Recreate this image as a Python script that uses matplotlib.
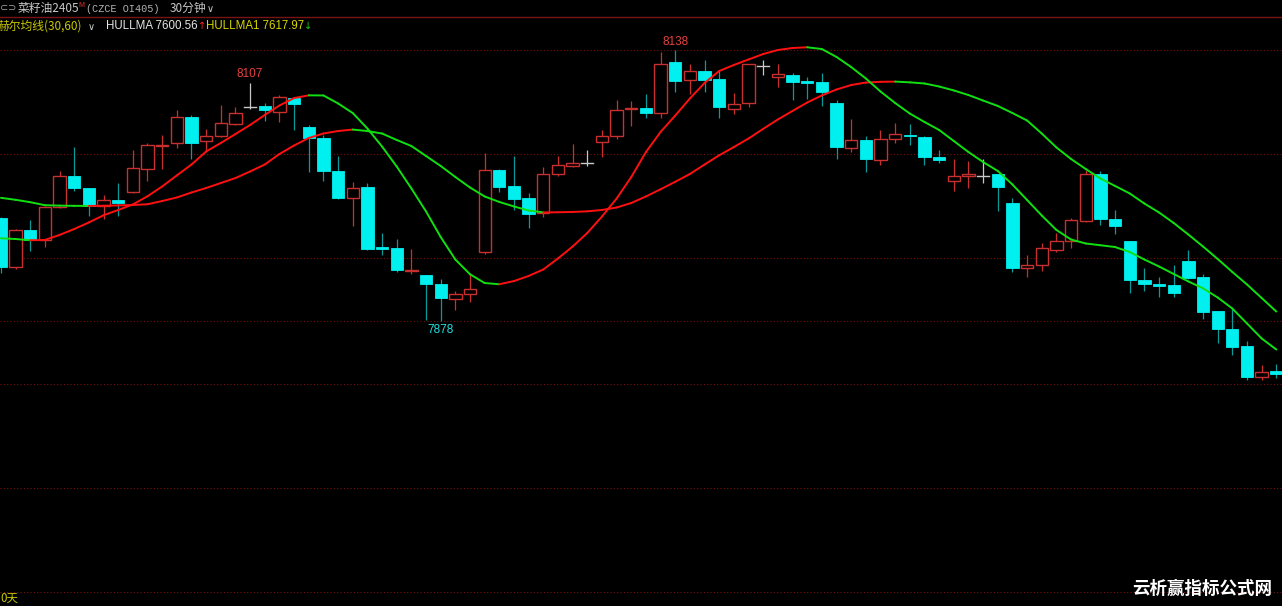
import matplotlib
matplotlib.use("Agg")
import matplotlib.pyplot as plt
from matplotlib.patches import Rectangle
from matplotlib.collections import LineCollection
from matplotlib.lines import Line2D

# ---------------- data (30-minute bars, 菜籽油2405) ----------------
opens = [7977, 7930, 7965, 7956, 7988, 8017, 8006, 7989, 7994, 8002,
         8024, 8046, 8049, 8074, 8051, 8056, 8067, 8084, 8085, 8079,
         8092, 8064, 8054, 8022, 7996, 8007, 7949, 7948, 7926, 7922,
         7914, 7899, 7904, 7944, 8023, 8008, 7996, 7982, 8019, 8027,
         8030, 8050, 8056, 8082, 8083, 8078, 8127, 8110, 8118, 8111,
         8082, 8088, 8123, 8113, 8114, 8109, 8108, 8088, 8044, 8052,
         8033, 8053, 8057, 8055, 8036, 8013, 8017, 8017, 8019, 7991,
         7929, 7932, 7946, 7955, 7974, 8019, 7976, 7955, 7917, 7914,
         7913, 7936, 7920, 7888, 7870, 7854, 7824, 7830]
highs = [7978, 7966, 7975, 7989, 8022, 8045, 8006, 7999, 8011, 8042,
         8049, 8057, 8081, 8076, 8063, 8086, 8084, 8107, 8088, 8095,
         8093, 8066, 8057, 8037, 8012, 8011, 7963, 7957, 7947, 7922,
         7918, 7907, 7923, 8039, 8024, 8037, 8001, 8026, 8037, 8048,
         8042, 8062, 8090, 8089, 8096, 8137, 8138, 8125, 8129, 8118,
         8097, 8125, 8129, 8125, 8116, 8113, 8116, 8090, 8072, 8056,
         8062, 8068, 8067, 8056, 8042, 8034, 8032, 8034, 8019, 7996,
         7941, 7953, 7963, 7977, 8023, 8022, 7985, 7955, 7929, 7920,
         7932, 7946, 7923, 7888, 7890, 7859, 7836, 7837]
lows = [7924, 7928, 7945, 7949, 7987, 8003, 7979, 7976, 7979, 8001,
        8013, 8024, 8044, 8034, 8041, 8055, 8066, 8082, 8070, 8069,
        8062, 8021, 8013, 7995, 7969, 7946, 7941, 7925, 7923, 7879,
        7878, 7889, 7896, 7942, 8002, 7985, 7967, 7978, 8017, 8026,
        8027, 8036, 8053, 8065, 8073, 8073, 8098, 8096, 8098, 8073,
        8077, 8084, 8114, 8103, 8090, 8091, 8085, 8034, 8040, 8021,
        8028, 8049, 8047, 8028, 8030, 8003, 8006, 8011, 7984, 7925,
        7920, 7926, 7944, 7948, 7973, 7970, 7962, 7905, 7907, 7901,
        7901, 7918, 7880, 7857, 7845, 7821, 7821, 7823]
closes = [7930, 7965, 7956, 7988, 8017, 8006, 7989, 7994, 7991, 8025,
          8047, 8047, 8074, 8049, 8056, 8068, 8078, 8084, 8081, 8093,
          8087, 8054, 8022, 7996, 8006, 7947, 7947, 7927, 7927, 7914,
          7900, 7904, 7909, 8023, 8007, 7995, 7981, 8019, 8028, 8030,
          8030, 8056, 8081, 8083, 8078, 8125, 8109, 8118, 8110, 8084,
          8087, 8125, 8123, 8115, 8108, 8107, 8098, 8045, 8052, 8034,
          8053, 8058, 8056, 8036, 8033, 8017, 8019, 8017, 8007, 7929,
          7932, 7948, 7955, 7975, 8019, 7976, 7969, 7917, 7914, 7912,
          7905, 7919, 7887, 7870, 7853, 7824, 7829, 7827]

# HULLMA (30) and HULLMA1 (60) per bar
hullma = [7957.5, 7956.8, 7955.6, 7955.9, 7960.7, 7966.4, 7972.7, 7979.6, 7984.7, 7990.0,
          7997.9, 8007.3, 8017.9, 8028.4, 8040.9, 8049.1, 8057.7, 8066.4, 8076.0, 8085.1,
          8092.3, 8094.9, 8094.8, 8087.1, 8077.9, 8063.0, 8045.7, 8026.5, 8005.4, 7983.3,
          7958.7, 7937.1, 7922.9, 7914.5, 7913.3, 7916.4, 7921.3, 7927.5, 7938.1, 7949.6,
          7962.6, 7978.4, 7995.7, 8016.4, 8040.4, 8059.7, 8075.5, 8091.9, 8106.8, 8118.3,
          8124.1, 8129.4, 8134.6, 8138.5, 8140.4, 8141.1, 8139.4, 8131.8, 8122.1, 8111.1,
          8098.6, 8087.5, 8077.4, 8069.3, 8061.6, 8051.0, 8040.4, 8030.8, 8022.2, 8009.2,
          7994.3, 7979.4, 7965.5, 7956.3, 7952.5, 7950.8, 7949.1, 7944.3, 7937.1, 7930.4,
          7923.2, 7916.0, 7909.4, 7900.6, 7890.0, 7875.6, 7861.2, 7850.6]
hullma1 = [7996.4, 7994.5, 7992.2, 7989.3, 7988.9, 7988.7, 7988.6, 7988.8, 7989.1, 7989.5,
           7990.2, 7993.3, 7996.7, 8001.5, 8005.8, 8010.6, 8015.4, 8021.7, 8028.4, 8038.5,
           8046.7, 8053.9, 8058.2, 8060.6, 8062.0, 8060.6, 8058.2, 8052.0, 8046.2, 8036.6,
           8027.0, 8016.4, 8006.3, 7997.7, 7992.4, 7988.1, 7984.2, 7982.4, 7982.5, 7982.8,
           7983.4, 7984.7, 7987.1, 7991.4, 7997.7, 8004.6, 8011.8, 8019.3, 8028.4, 8037.3,
           8045.2, 8053.4, 8062.7, 8071.7, 8079.9, 8088.0, 8094.8, 8100.5, 8104.8, 8107.2,
           8107.9, 8108.1, 8107.4, 8106.3, 8103.4, 8099.6, 8095.2, 8089.9, 8084.7, 8077.9,
           8070.7, 8058.2, 8044.8, 8033.7, 8024.1, 8015.0, 8007.8, 8000.6, 7990.9, 7982.3,
           7972.2, 7961.1, 7949.6, 7937.6, 7925.1, 7913.1, 7900.1, 7887.1]

grid_levels = [8138, 8038.5, 7939, 7878, 7817.4, 7717.5, 7617.5]
mark_labels = [(17, "8107", "high"), (46, "8138", "high"), (30, "7878", "low")]

title_name = "菜籽油2405"
title_code = "(CZCE OI405)"
period_text = "30分钟"
indicator_name = "赫尔均线(30,60)"
hull_last = "HULLMA 7600.56"
hull1_last = "HULLMA1 7617.97"

# ---------------- styling ----------------
W, H = 1282, 606
BG = "#000000"
UP = "#c8302f"
DOWN_FILL = "#00f0f0"
DOWN_WICK = "#0a9a9a"
DOJI = "#c8c8c8"
RISE = "#ff1010"
FALL = "#10e010"
GRID = "#7a1010"

fig = plt.figure(figsize=(W / 100, H / 100), dpi=100, facecolor=BG)
ax = fig.add_axes([0, 0, 1, 1], facecolor=BG)
ax.set_axis_off()
ax.set_xlim(-0.061, 87.388)
ax.set_ylim(7604.05, 8186.54)

for g in grid_levels:
    ax.axhline(g, color=GRID, lw=0.8, ls=(0, (1, 2)), zorder=0)

bw = 0.84
for i, (o, h, l, c) in enumerate(zip(opens, highs, lows, closes)):
    top, bot = max(o, c), min(o, c)
    if c > o:
        ax.plot([i, i], [top, h], color=UP, lw=0.9, zorder=2, solid_capstyle="butt")
        ax.plot([i, i], [l, bot], color=UP, lw=0.9, zorder=2, solid_capstyle="butt")
        ax.add_patch(Rectangle((i - bw / 2, bot), bw, top - bot, facecolor=BG,
                               edgecolor=UP, lw=1.0, zorder=3))
    elif c < o:
        ax.plot([i, i], [l, h], color=DOWN_WICK, lw=0.9, zorder=2, solid_capstyle="butt")
        ax.add_patch(Rectangle((i - bw / 2, bot), bw, top - bot, facecolor=DOWN_FILL,
                               edgecolor=DOWN_FILL, lw=0.6, zorder=3))
    else:
        ax.plot([i, i], [l, h], color=DOJI, lw=0.9, zorder=2, solid_capstyle="butt")
        ax.plot([i - bw / 2, i + bw / 2], [o, o], color=DOJI, lw=1.0, zorder=3)


def colored_line(vals):
    segs, cols = [], []
    for i in range(1, len(vals)):
        segs.append([(i - 1, vals[i - 1]), (i, vals[i])])
        cols.append(RISE if vals[i] >= vals[i - 1] else FALL)
    return LineCollection(segs, colors=cols, linewidths=1.4, zorder=5,
                          capstyle="round", joinstyle="round")


ax.add_collection(colored_line(hullma1))
ax.add_collection(colored_line(hullma))

lat = ["Liberation Sans", "DejaVu Sans"]
for idx, txt, kind in mark_labels:
    if kind == "high":
        ax.annotate(txt, xy=(idx, highs[idx]), xytext=(0, 6), textcoords="offset points",
                    ha="center", va="center", color="#e84040", fontsize=8.5, family=lat)
    else:
        ax.annotate(txt, xy=(idx, lows[idx]), xytext=(0, -6.5), textcoords="offset points",
                    ha="center", va="center", color="#20e0e0", fontsize=8.5, family=lat)


def ftext(x, y, s, **kw):
    fig.text(x / W, 1 - y / H, s, va="center", ha="left", **kw)


cjk = ["Noto Sans CJK SC", "DejaVu Sans"]
# header row 1
ftext(0, 8.5, "⊂⊃", color="#a0a0a0", fontsize=7, family=["DejaVu Sans"])
ftext(18, 8.5, title_name, color="#c8c8c8", fontsize=8.5, family=cjk)
ftext(78, 5.5, "M", color="#e03030", fontsize=5, family=lat)
ftext(86, 8.5, title_code, color="#b4b4b4", fontsize=7.3, family=["Liberation Mono", "DejaVu Sans Mono"])
ftext(170, 8.5, period_text, color="#c8c8c8", fontsize=8.5, family=cjk)
ftext(207, 8.5, "∨", color="#c8c8c8", fontsize=7, family=["DejaVu Sans"])
fig.add_artist(Line2D([0, 1], [1 - 17.3 / H, 1 - 17.3 / H], color="#781414", lw=1.0))

# header row 2
ftext(-2, 26, indicator_name, color="#c8c800", fontsize=8.5, family=cjk)
ftext(88, 27, "∨", color="#c8c8c8", fontsize=7, family=["DejaVu Sans"])
ftext(106, 26, hull_last, color="#e6e6e6", fontsize=8.3, family=lat)
ftext(198.5, 26, "↑", color="#ff2020", fontsize=7, family=["DejaVu Sans"])
ftext(206, 26, hull1_last, color="#d8d800", fontsize=8.3, family=lat)
ftext(304, 26, "↓", color="#10d010", fontsize=7, family=["DejaVu Sans"])

# bottom
ftext(0, 598, "0天", color="#c8c800", fontsize=8.3, family=cjk)
ftext(1132, 589, "云析赢指标公式网", color="#ffffff", fontsize=12.6,
      family=cjk, fontweight="bold")

fig.savefig("out.png", dpi=100, facecolor=BG)
